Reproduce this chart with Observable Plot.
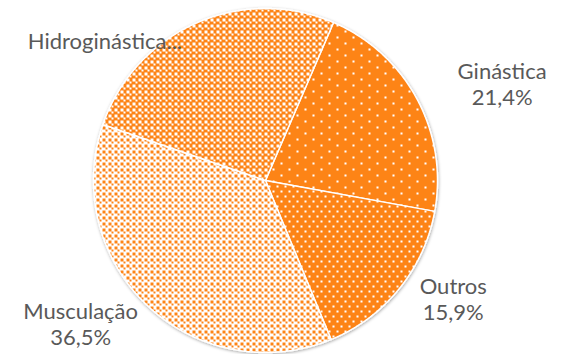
<!DOCTYPE html>
<html>
<head>
<meta charset="utf-8">
<script src="https://cdn.jsdelivr.net/npm/d3@7"></script>
<script src="https://cdn.jsdelivr.net/npm/@observablehq/plot@0.6"></script>
<style>
  html, body { margin: 0; padding: 0; background: #fff; }
  #chart { width: 564px; height: 354px; }
</style>
</head>
<body>
<div id="chart"></div>
<script>
// ---- data ----
const names = ["Ginástica", "Outros", "Musculação", "Hidroginástica"];
const values = [21.4, 15.9, 36.5, 26.2];
const labelTexts = ["Ginástica\n21,4%", "Outros\n15,9%", "Musculação\n36,5%", "Hidroginástica..."];

// ---- layout / style ----
const W = 564, H = 354;
const cx = 265, cy = 180, R = 172;
const startDeg = 23.3;
const orange = "#FD8419";
const patternIds = ["pGin", "pOut", "pMus", "pHid"];
// label nudges in pixels from the slice's outer mid point
const labelNudge = [[85, -16], [54, 10], [-67, 18], [-91, 17]];

const total = d3.sum(values);
let acc = 0;
const slices = names.map((name, i) => {
  const a0 = (startDeg * Math.PI / 180) + acc / total * 2 * Math.PI;
  acc += values[i];
  const a1 = (startDeg * Math.PI / 180) + acc / total * 2 * Math.PI;
  return { name, value: values[i], a0, a1 };
});

const pts = [];
for (const s of slices) {
  pts.push({ name: s.name, x: 0, y: 0 });
  const n = Math.max(2, Math.ceil((s.a1 - s.a0) / (Math.PI / 360)));
  for (let k = 0; k <= n; k++) {
    const a = s.a0 + (s.a1 - s.a0) * k / n;
    pts.push({ name: s.name, x: Math.sin(a), y: Math.cos(a) });
  }
  pts.push({ name: s.name, x: 0, y: 0 });
}

const labels = slices.map((s, i) => {
  const m = (s.a0 + s.a1) / 2;
  return {
    text: labelTexts[i],
    x: Math.sin(m) + labelNudge[i][0] / R,
    y: Math.cos(m) - labelNudge[i][1] / R
  };
});

const svg = Plot.plot({
  width: W,
  height: H,
  margin: 0,
  style: { background: "#fff", fontFamily: "Lato, 'Open Sans', sans-serif" },
  x: { domain: [-1, 1], range: [cx - R, cx + R], axis: null },
  y: { domain: [-1, 1], range: [cy + R, cy - R], axis: null },
  color: { type: "ordinal", domain: names, range: patternIds.map(id => `url(#${id})`) },
  marks: [
    Plot.line(pts, {
      x: "x", y: "y", z: "name", fill: "name",
      stroke: "white", strokeWidth: 1.5, strokeLinejoin: "miter", curve: "linear"
    }),
    Plot.text(labels, {
      x: "x", y: "y", text: "text",
      fill: "#595959", fontSize: 22, lineHeight: 1.2,
      textAnchor: "middle", lineAnchor: "middle"
    })
  ]
});

// ---- pattern fills & shadow ----
const defs = d3.select(svg).insert("defs", ":first-child");
function pattern(id, w, h, bg, fg, rects) {
  const p = defs.append("pattern").attr("id", id)
    .attr("patternUnits", "userSpaceOnUse").attr("width", w).attr("height", h);
  p.append("rect").attr("width", w).attr("height", h).attr("fill", bg);
  for (const [x, y, rw, rh] of rects) {
    p.append("rect").attr("x", x).attr("y", y).attr("width", rw).attr("height", rh).attr("fill", fg);
  }
}
pattern("pGin", 16, 12, orange, "#fff", [[0, 0, 2, 2], [8, 6, 2, 2]]);
pattern("pOut", 8, 10, orange, "#fff", [[0, 0, 2, 2], [4, 5, 2, 2]]);
pattern("pHid", 6, 6, orange, "#fff", [[0, 0, 3, 3], [3, 3, 2, 2]]);
pattern("pMus", 6, 6, "#fff", orange, [[0, 0, 3, 3], [3, 3, 2, 2]]);

const f = defs.append("filter").attr("id", "shadow")
  .attr("x", "-10%").attr("y", "-10%").attr("width", "120%").attr("height", "120%");
f.append("feDropShadow").attr("dx", 0.5).attr("dy", 1).attr("stdDeviation", 1.8)
  .attr("flood-color", "#000").attr("flood-opacity", 0.35);
d3.select(svg).select('g[aria-label="line"]').attr("filter", "url(#shadow)");

document.getElementById("chart").appendChild(svg);
</script>
</body>
</html>
